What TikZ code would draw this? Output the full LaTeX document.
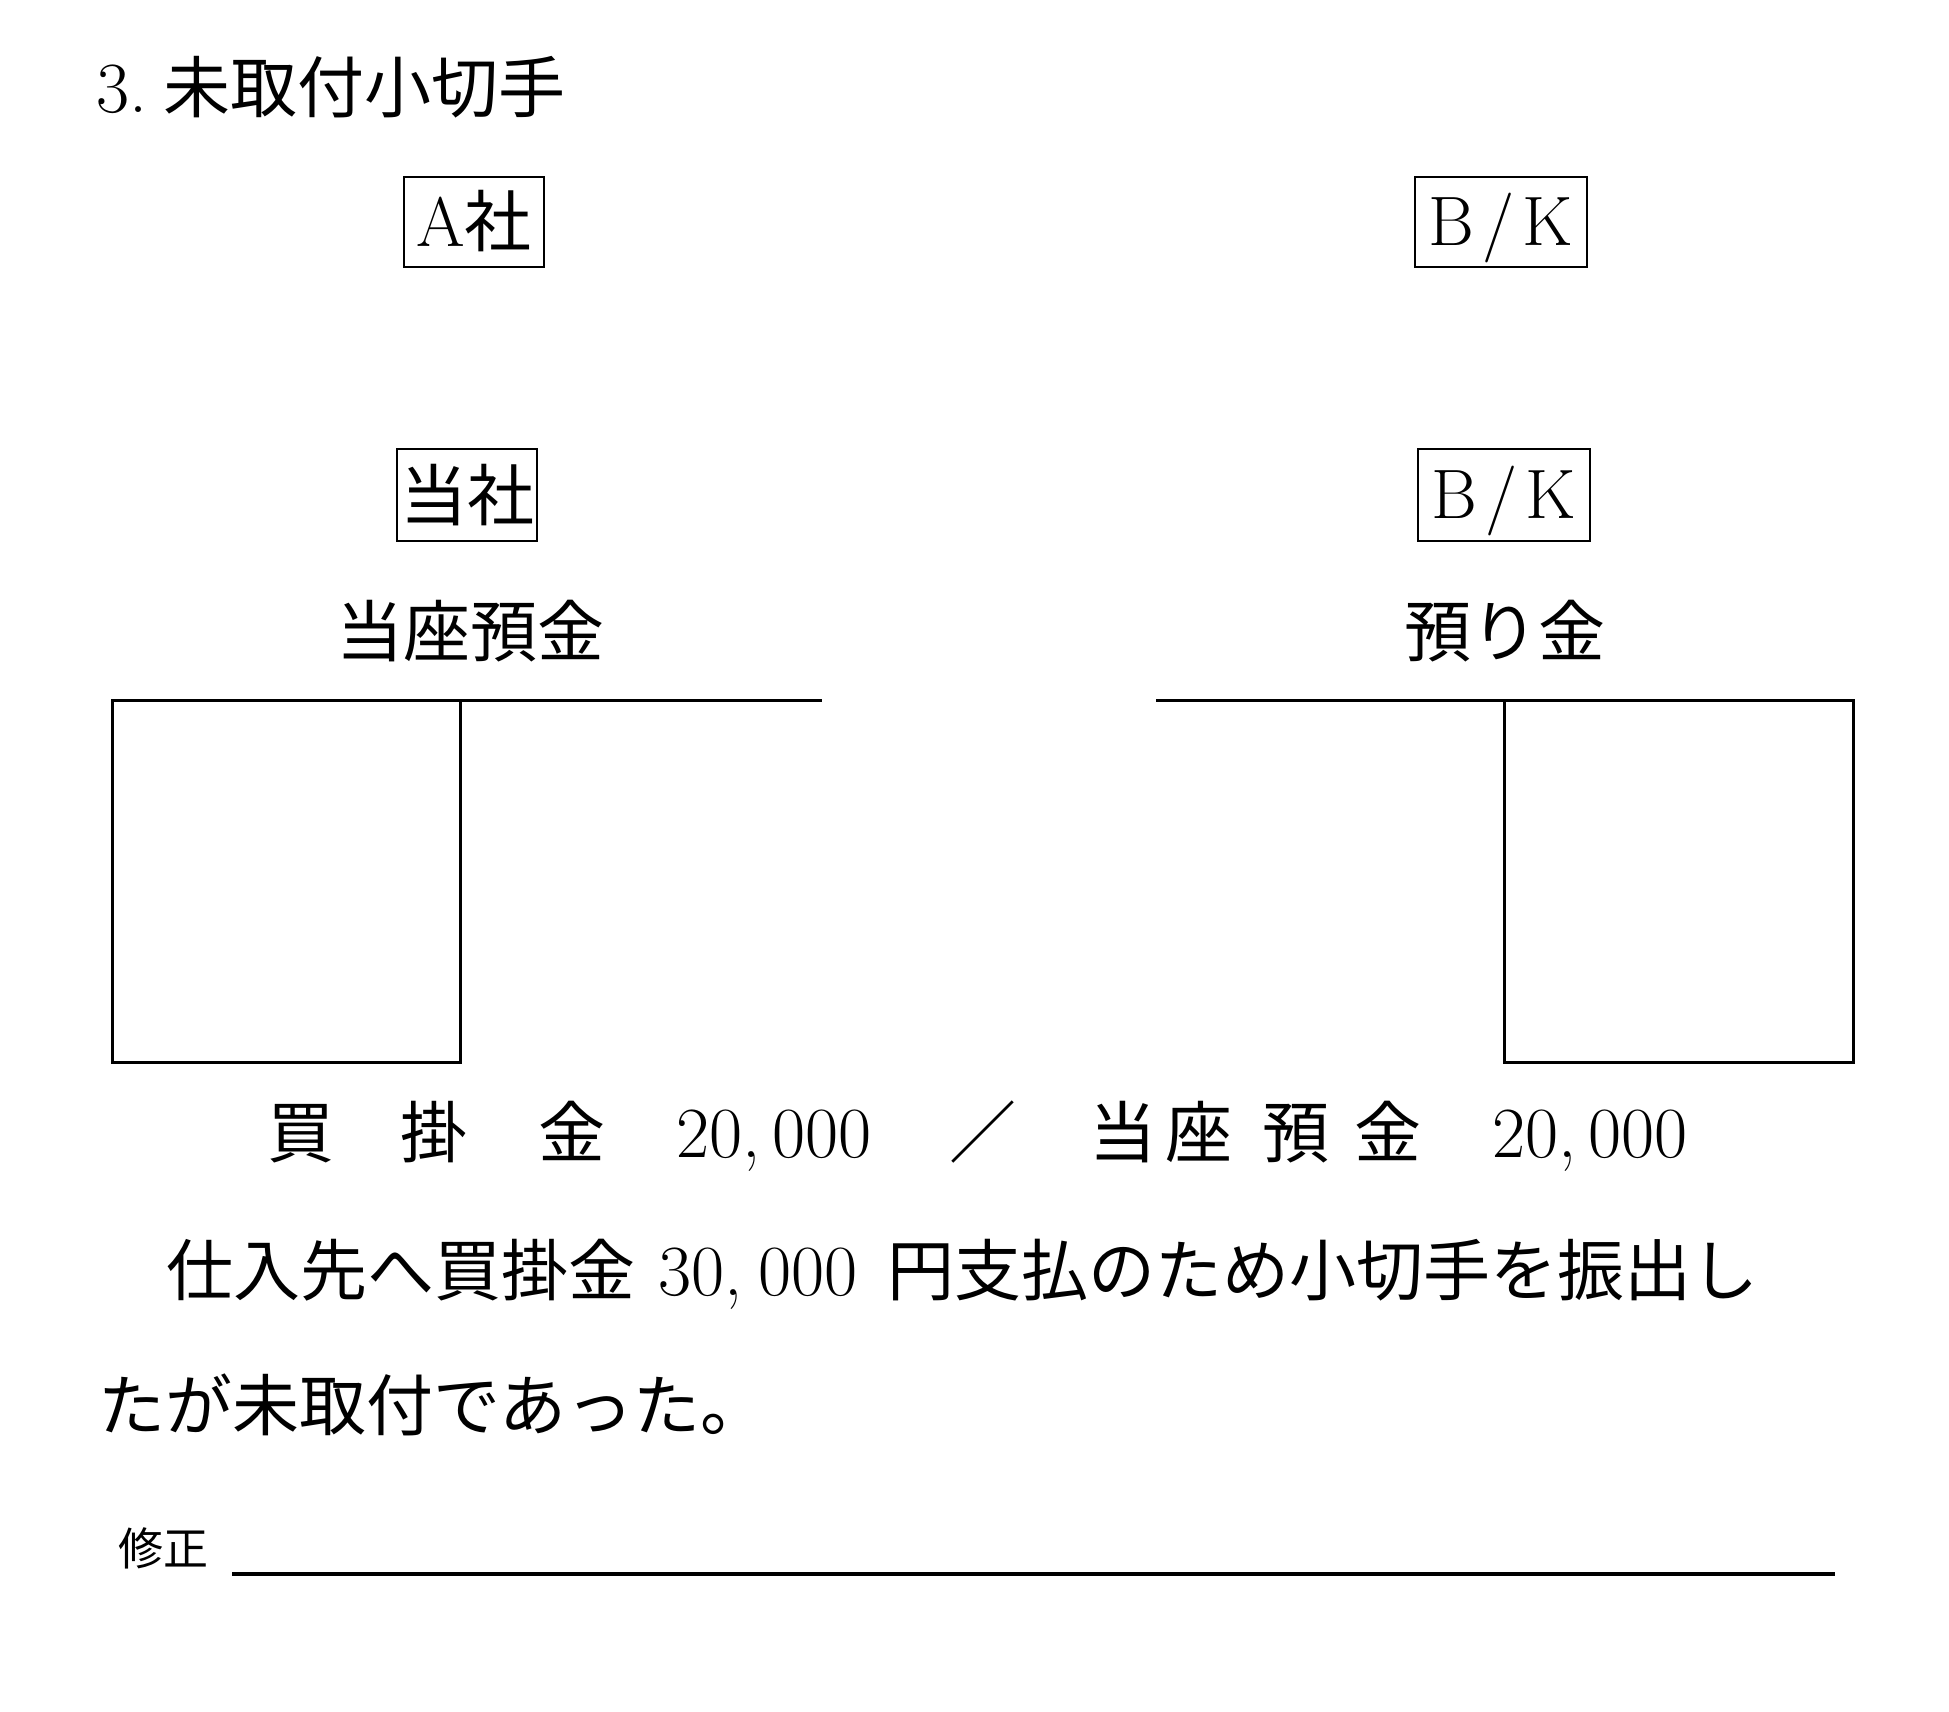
\documentclass[tikz,border=0pt]{standalone}
\usepackage{fontspec}
\newfontfamily\cjk{Noto Sans CJK JP}
\begin{document}
\begin{tikzpicture}[x=0.5pt,y=-0.5pt,
  jp/.style={inner sep=0pt, anchor=base west, font=\fontsize{33.5}{40}\selectfont\cjk},
  lm/.style={inner sep=0pt, anchor=base west, font=\fontsize{36}{42}\selectfont},
  tag/.style={draw, line width=1.3pt, inner sep=0pt, minimum height=45pt,
    font=\fontsize{35}{40}\selectfont, text height=27.5pt, text depth=2.5pt},
  tagbk/.style={tag, minimum width=86pt, text height=23.9pt, text depth=0pt},
  rule/.style={line width=1.5pt}]
\useasboundingbox (0,0) rectangle (1949,1712);

% title
\node[lm] (t1) at (96,113) {3.};
\node[jp] (t2) at (163,113) {未取付小切手};

% tags
\node[tag, minimum width=70pt] (asha) at (474,222) {A{\fontsize{33.5}{40}\selectfont\cjk 社}};
\node[tagbk] (bk1) at (1501,222) {B\kern4pt/\kern4pt K};
\node[tag, minimum width=70pt, minimum height=46pt, font=\fontsize{33.5}{40}\selectfont\cjk] (tosha) at (467,495) {当社};
\node[tagbk, minimum height=46pt] (bk2) at (1504,495) {B\kern4pt/\kern4pt K};

% account titles
\node[jp, anchor=base] (acc1) at (470,656) {当座預金};
\node[jp, anchor=base] (acc2) at (1505,656) {預り金};

% T accounts
\draw[rule] (112,700) -- (822,700);
\draw[rule] (112,700) rectangle (460,1062);
\draw[rule] (1156,700) -- (1853,700);
\draw[rule] (1504,700) rectangle (1853,1062);

% journal entry
\node[jp] (j1) at (267,1157) {買};
\node[jp] (j2) at (400,1157) {掛};
\node[jp] (j3) at (538,1157) {金};
\node[lm] (j4) at (676,1157) {20,\kern6pt 000};
\node[jp, anchor=center] (j5) at (983,1132) {／};
\node[jp] (j6) at (1089,1157) {当};
\node[jp] (j7) at (1165,1157) {座};
\node[jp] (j8) at (1262,1157) {預};
\node[jp] (j9) at (1354,1157) {金};
\node[lm] (j10) at (1492,1157) {20,\kern6pt 000};

% sentence
\node[jp] (s1) at (166,1295) {仕入先へ買掛金};
\node[lm] (s2) at (658,1295) {30,\kern8pt 000};
\node[jp] (s3) at (887,1295) {円支払のため小切手を振出し};
\node[jp] (s4) at (98,1430) {たが未取付であった。};

% correction
\node[jp, font=\fontsize{22.5}{26}\selectfont\cjk] (fix) at (118,1565) {修正};
\draw[line width=2pt] (232,1574) -- (1835,1574);
\end{tikzpicture}
\end{document}
